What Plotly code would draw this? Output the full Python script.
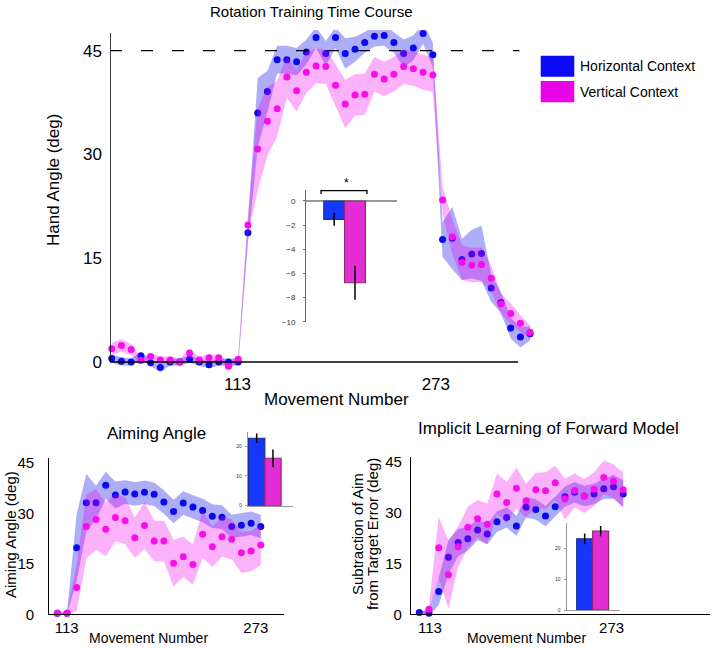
import plotly.graph_objects as go

W, H = 714, 648
FONT = 'Liberation Sans, Arial, sans-serif'

BLUE = '#0A0AF0'
MAGENTA = '#F70FEB'
BLUE_BAND = 'rgba(20,20,235,0.35)'
MAGENTA_BAND = 'rgba(245,0,240,0.30)'

contexts = ['Horizontal Context', 'Vertical Context']

# rotation training time course (bins of movements)
main_bins = list(range(1, 45))
main_blue = [0.5, 0.1, 0.0, 0.9, -0.1, -0.8, 0.0, 0.0, 0.4, 0.0, -0.4, 0.0, 0.0, 0.0,
             18.7, 36.0, 39.1, 43.7, 43.7, 43.4, 44.8, 46.9, 44.6, 46.9,
             44.6, 45.2, 46.2, 47.1, 47.2, 46.2, 44.6, 45.4, 47.5, 44.4,
             17.7, 17.9, 14.8, 15.6, 15.7, 10.7, 8.6, 4.9, 3.6, 4.1]
main_blue_se = [0.6, 0.6, 0.5, 0.5, 0.5, 0.6, 0.5, 0.5, 0.5, 0.5, 0.5, 0.5, 0.5, 0.5,
                1.5, 5.0, 3.0, 2.0, 2.0, 2.0, 1.8, 1.5, 1.8, 1.5,
                2.2, 1.8, 1.5, 1.5, 1.5, 1.5, 2.0, 1.8, 1.5, 1.8,
                2.5, 4.5, 3.0, 3.5, 4.0, 2.0, 1.5, 1.5, 1.5, 1.0]
main_mag = [1.9, 2.4, 1.8, 0.2, 0.8, 0.3, 0.3, 0.0, 1.3, 0.3, 0.6, 0.6, -0.6, 0.4,
            19.8, 30.8, 34.8, 36.6, 41.2, 39.2, 41.9, 42.8, 42.7, 40.0,
            37.3, 38.6, 38.7, 41.6, 40.9, 41.6, 42.7, 42.4, 41.9, 41.5,
            23.4, 18.1, 14.4, 14.0, 14.1, 12.1, 8.4, 7.0, 5.6, 4.3]
main_mag_se = [0.9, 0.9, 0.8, 0.5, 0.5, 0.5, 0.5, 0.5, 0.5, 0.5, 0.5, 0.5, 0.5, 0.5,
               1.5, 6.0, 5.0, 4.0, 3.0, 3.0, 3.0, 2.5, 2.5, 3.0,
               3.5, 3.0, 3.0, 2.5, 2.5, 2.5, 2.5, 2.5, 2.5, 2.5,
               2.0, 2.5, 2.5, 2.5, 2.5, 1.8, 1.5, 1.5, 1.2, 1.0]
main_bar = [-1.52, -6.77]
main_bar_err = [0.54, 1.4]

# aiming angle
sub_bins = list(range(1, 23))
aim_blue = [0.3, 0.3, 19.8, 33.2, 33.2, 38.4, 35.5, 36.4, 35.8, 36.3, 35.7,
            33.4, 30.6, 33.1, 31.9, 30.9, 29.2, 28.9, 26.1, 26.5, 27.1, 26.1]
aim_blue_se = [0.3, 0.3, 10.0, 8.5, 5.0, 4.0, 4.0, 3.5, 3.5, 3.5, 3.5,
               3.5, 3.5, 3.5, 3.5, 3.5, 3.5, 3.5, 3.5, 3.5, 3.5, 3.5]
aim_mag = [0.3, 0.3, 8.0, 26.1, 28.2, 25.3, 28.8, 27.8, 22.8, 26.4, 21.8,
           21.8, 15.2, 17.1, 14.8, 23.8, 20.1, 23.1, 22.3, 18.3, 18.8, 20.6]
aim_mag_se = [0.3, 0.3, 7.0, 9.5, 9.0, 8.0, 7.0, 7.0, 6.0, 7.0, 6.0,
              6.0, 7.0, 6.0, 6.0, 7.0, 6.0, 6.0, 6.0, 6.0, 6.0, 6.0]
aim_bar = [22.6, 15.9]
aim_bar_err = [1.6, 2.95]

# implicit learning of forward model
imp_blue = [0.5, 0.3, 6.7, 16.8, 21.1, 22.2, 24.8, 23.6, 27.2, 28.5, 26.0,
            31.5, 30.8, 28.9, 31.6, 34.6, 35.9, 34.8, 35.4, 36.9, 37.5, 35.4]
imp_blue_se = [0.5, 0.8, 4.0, 5.0, 4.0, 3.5, 3.0, 3.0, 3.0, 3.0, 3.0,
               3.0, 3.0, 3.0, 3.0, 3.0, 3.0, 3.0, 3.0, 3.0, 3.5, 4.0]
imp_mag = [-0.5, 1.5, 19.6, 11.6, 19.9, 25.6, 28.1, 26.5, 35.4, 32.9, 37.1,
           33.4, 36.6, 36.3, 38.7, 33.9, 36.4, 34.8, 36.8, 40.2, 39.1, 36.6]
imp_mag_se = [0.5, 1.0, 9.0, 10.0, 6.0, 6.0, 5.5, 6.0, 6.0, 6.0, 6.0,
              5.0, 5.0, 5.5, 5.0, 6.0, 5.0, 5.0, 5.0, 5.0, 5.0, 5.0]
imp_bar = [23.1, 25.6]
imp_bar_err = [1.75, 1.65]

tick_text = ['113', '273']


def px(x):
    return x / W


def py(y):
    return 1 - y / H


def band(x, mean, se, color, xa, ya):
    upper = [m + s for m, s in zip(mean, se)]
    lower = [m - s for m, s in zip(mean, se)]
    return go.Scatter(x=list(x) + list(x)[::-1], y=upper + lower[::-1],
                      fill='toself', fillcolor=color, mode='lines',
                      line=dict(width=0), hoverinfo='skip',
                      xaxis=xa, yaxis=ya)


def dots(x, y, color, xa, ya):
    return go.Scatter(x=x, y=y, mode='markers', cliponaxis=False,
                      marker=dict(color=color, size=7),
                      xaxis=xa, yaxis=ya)


def time_course(fig, x, blue, blue_se, mag, mag_se, xa, ya):
    fig.add_trace(band(x, blue, blue_se, BLUE_BAND, xa, ya))
    fig.add_trace(dots(x, blue, BLUE, xa, ya))
    fig.add_trace(band(x, mag, mag_se, MAGENTA_BAND, xa, ya))
    fig.add_trace(dots(x, mag, MAGENTA, xa, ya))


def bars(fig, vals, errs, xa, ya):
    fig.add_trace(go.Bar(x=contexts, y=vals, width=1,
                         marker=dict(color=['#1438FF', '#E52DD6'],
                                     line=dict(color=['#1C2F99', '#8E2A6A'], width=1.2)),
                         error_y=dict(type='data', array=errs, color='black',
                                      thickness=1.5, width=0),
                         xaxis=xa, yaxis=ya))


fig = go.Figure()
time_course(fig, main_bins, main_blue, main_blue_se, main_mag, main_mag_se, 'x', 'y')
bars(fig, main_bar, main_bar_err, 'x2', 'y2')
time_course(fig, sub_bins, aim_blue, aim_blue_se, aim_mag, aim_mag_se, 'x3', 'y3')
bars(fig, aim_bar, aim_bar_err, 'x4', 'y4')
time_course(fig, sub_bins, imp_blue, imp_blue_se, imp_mag, imp_mag_se, 'x5', 'y5')
bars(fig, imp_bar, imp_bar_err, 'x6', 'y6')

big = dict(family=FONT, size=17, color='black')
mid = dict(family=FONT, size=15, color='black')
plain = dict(showgrid=False, zeroline=False, ticks='')

layout = dict(
    width=W, height=H, template='none', showlegend=False,
    margin=dict(l=0, r=0, t=0, b=0),
    paper_bgcolor='white', plot_bgcolor='rgba(0,0,0,0)',
    font=dict(family=FONT, color='black'),
    # main time course
    xaxis=dict(domain=[px(110), px(535)], range=[0.825, 44.5], showline=False,
               tickvals=[13.93, 34.31], ticktext=tick_text, tickfont=big, **plain),
    yaxis=dict(domain=[py(372), py(30)], range=[-1.446, 47.99], showline=False,
               tickvals=[0, 15, 30, 45], tickfont=big, ticklabelstandoff=7, **plain),
    # main inset
    xaxis2=dict(domain=[px(306), px(397)], range=[-1.356, 3.02], type='category',
                visible=False, anchor='y2'),
    yaxis2=dict(domain=[py(322), py(190)], range=[-10.02, 0.91], anchor='x2',
                showgrid=False, zeroline=True, zerolinecolor='#9a9a9a', zerolinewidth=1.5,
                showline=True, linecolor='#666', linewidth=1, ticks='outside', ticklen=2,
                tickcolor='#666', tickvals=[0, -2, -4, -6, -8, -10],
                tickfont=dict(family=FONT, size=8, color='#333'), ticklabelstandoff=6),
    # aiming angle
    xaxis3=dict(domain=[px(49.3), px(284.3)], range=[0.174, 24.43], anchor='y3',
                showline=True, linecolor='black', linewidth=1.3,
                tickvals=[1.97, 21.49], ticktext=tick_text, tickfont=mid, **plain),
    yaxis3=dict(domain=[py(614.3), py(458)], range=[0, 46.49], anchor='x3',
                showline=True, linecolor='black', linewidth=1.3,
                tickvals=[0, 15, 30, 45], tickfont=mid, ticklabelstandoff=11, **plain),
    xaxis4=dict(domain=[px(248), px(293)], range=[-0.534, 2.23], type='category',
                anchor='y4', showline=True, linecolor='#999', linewidth=1.2,
                showticklabels=False, **plain),
    yaxis4=dict(domain=[py(505.7), py(431.7)], range=[0, 24.8], anchor='x4',
                showline=True, linecolor='#999', linewidth=1.2, ticks='outside',
                ticklen=2, tickcolor='#999', tickvals=[0, 10, 20], showgrid=False,
                zeroline=False, tickfont=dict(family=FONT, size=5, color='#333'),
                ticklabelstandoff=2),
    # implicit learning
    xaxis5=dict(domain=[px(411), px(710)], range=[0.145, 30.94], anchor='y5',
                showline=True, linecolor='black', linewidth=1.3,
                tickvals=[2.1, 20.81], ticktext=tick_text, tickfont=mid, **plain),
    yaxis5=dict(domain=[py(614.3), py(456.7)], range=[0, 46.35], anchor='x5',
                showline=True, linecolor='black', linewidth=1.3,
                tickvals=[0, 15, 30, 45], tickfont=mid, ticklabelstandoff=5, **plain),
    xaxis6=dict(domain=[px(566.7), px(620)], range=[-1.125, 2.21], type='category',
                anchor='y6', showline=True, linecolor='#999', linewidth=1.2,
                showticklabels=False, **plain),
    yaxis6=dict(domain=[py(610), py(523.3)], range=[0, 28.15], anchor='x6',
                showline=True, linecolor='#999', linewidth=1.2, ticks='outside',
                ticklen=2, tickcolor='#999', tickvals=[0, 10, 20], showgrid=False,
                zeroline=False, tickfont=dict(family=FONT, size=5, color='#333'),
                ticklabelstandoff=2),
)
fig.update_layout(**layout)

shapes = [
    # main axes and the 45 deg target line
    dict(type='line', xref='x', yref='y', x0=0.825, x1=42.76, y0=0, y1=0,
         line=dict(color='black', width=1.5)),
    dict(type='line', xref='x', yref='y', x0=0.825, x1=0.825, y0=0, y1=47.56,
         line=dict(color='black', width=1.5)),
    dict(type='line', xref='x', yref='y', x0=0.825, x1=42.9, y0=45, y1=45,
         line=dict(color='black', width=1.3, dash='12px,19px')),
    # significance bracket on the inset
    dict(type='path', xref='paper', yref='paper',
         path='M {},{} L {},{} L {},{} L {},{}'.format(px(321), py(194), px(321), py(190.7),
                                                        px(367), py(190.7), px(367), py(194)),
         line=dict(color='black', width=1.3)),
    # legend swatches
    dict(type='rect', xref='paper', yref='paper', x0=px(540.7), x1=px(574.3),
         y0=py(76.7), y1=py(55.7), fillcolor='#0A0AF5', line=dict(width=0)),
    dict(type='rect', xref='paper', yref='paper', x0=px(540.7), x1=px(574.3),
         y0=py(102.3), y1=py(81), fillcolor='#E805E8', line=dict(width=0)),
]
fig.update_layout(shapes=shapes)


def label(text, x, y, size, angle=0, anchor='center'):
    fig.add_annotation(text=text, x=px(x), y=py(y), xref='paper', yref='paper',
                       xanchor=anchor, yanchor='middle', showarrow=False,
                       textangle=angle, font=dict(family=FONT, size=size, color='black'))


label('Rotation Training Time Course', 311, 12, 15)
label('Hand Angle (deg)', 53, 180, 17, -90)
label('Movement Number', 336.7, 399, 17)
label('*', 346, 183, 12)
label('Horizontal Context', 578.3, 66.2, 14, anchor='left')
label('Vertical Context', 578.3, 91.7, 14, anchor='left')

label('Aiming Angle', 156, 433, 17)
label('Aiming Angle (deg)', 10, 535, 15, -90)
label('Movement Number', 148, 638, 14)

label('Implicit Learning of Forward Model', 548, 428, 17)
label('Subtraction of Aim', 357, 534, 15, -90)
label('from Target Error (deg)', 372, 534, 15, -90)
label('Movement Number', 526, 638, 14)

# the page body has a default margin; drop it so the figure fills the window
fig.write_html('out.html', config={'displayModeBar': False},
               post_script="document.body.style.margin = '0';")
